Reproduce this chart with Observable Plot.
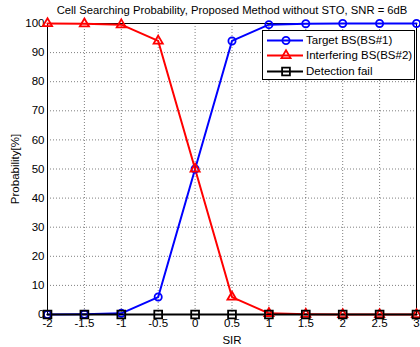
<!DOCTYPE html>
<html>
<head>
<meta charset="utf-8">
<script src="https://cdn.jsdelivr.net/npm/d3@7"></script>
<script src="https://cdn.jsdelivr.net/npm/@observablehq/plot@0.6"></script>
<style>
  body { margin: 0; background: #fff; }
  #wrap { position: relative; width: 420px; height: 347px; font-family: "Liberation Sans", Arial, sans-serif; }
  #legend { position: absolute; left: 262px; top: 30px; width: 153px; height: 50px; background: #fff; border: 1px solid #000; box-sizing: border-box; }
  #legend .row { position: absolute; left: 0; height: 15px; font-size: 11.5px; line-height: 15px; }
  #legend svg { position: absolute; left: 0; top: 0; }
  #legend span { position: absolute; left: 43px; white-space: nowrap; color: #000; }
</style>
</head>
<body>
<div id="wrap"></div>
<script>
const sir = [-2, -1.5, -1, -0.5, 0, 0.5, 1, 1.5, 2, 2.5, 3];
const target = [0, 0.1, 0.4, 6, 50, 94, 99.6, 99.9, 100, 100, 100];
const interfering = [100, 99.9, 99.6, 94, 50, 6, 0.4, 0.1, 0, 0, 0];
const detectFail = [0, 0, 0, 0, 0, 0, 0, 0, 0, 0, 0];
const seriesNames = ["Target BS(BS#1)", "Interfering BS(BS#2)", "Detection fail"];
const seriesColors = ["#0000ff", "#ff0000", "#000000"];
const seriesSymbols = ["circle", "triangle", "square"];
const xTicks = [-2, -1.5, -1, -0.5, 0, 0.5, 1, 1.5, 2, 2.5, 3];
const yTicks = [0, 10, 20, 30, 40, 50, 60, 70, 80, 90, 100];
const titleText = "Cell Searching Probability, Proposed Method without STO, SNR = 6dB";

const values = [target, interfering, detectFail];
const data = [];
values.forEach((vals, s) => sir.forEach((x, i) => data.push({x, y: vals[i], s})));

const font = "Liberation Sans, Arial, sans-serif";
const symR = [3.6, 3.4, 4.4];
const chart = Plot.plot({
  width: 420, height: 347,
  marginLeft: 47, marginRight: 4, marginTop: 23, marginBottom: 33,
  style: {fontFamily: font, fontSize: "11px", color: "#000", background: "#fff"},
  x: {domain: [-2, 3], ticks: xTicks, tickFormat: d => String(d)},
  y: {domain: [0, 100], ticks: yTicks},
  marks: [
    Plot.gridX(xTicks, {stroke: "#000", strokeOpacity: 0.5, strokeDasharray: "1,2"}),
    Plot.gridY(yTicks, {stroke: "#000", strokeOpacity: 0.5, strokeDasharray: "1,2"}),
    Plot.axisX(xTicks, {tickSize: 0, tickPadding: 4, label: "SIR", labelAnchor: "center", labelArrow: false, labelOffset: 29, fontSize: 11.5, tickFormat: d => String(d)}),
    Plot.axisY(yTicks, {tickSize: 0, tickPadding: 3, label: "Probability[%]", labelAnchor: "center", labelArrow: false, labelOffset: 37, fontSize: 11.5}),
    Plot.frame({stroke: "#000"}),
    ...[0, 1, 2].map(s => Plot.line(data.filter(d => d.s === s), {x: "x", y: "y", stroke: seriesColors[s], strokeWidth: 2})),
    ...[0, 1, 2].map(s => Plot.dot(data.filter(d => d.s === s), {x: "x", y: "y", stroke: seriesColors[s], strokeWidth: 1.8, fill: "none", symbol: seriesSymbols[s], r: symR[s]})),
    Plot.text([titleText], {text: d => d, frameAnchor: "top", lineAnchor: "middle", dy: -13, fontSize: 11.25, fill: "#000"})
  ]
});
document.getElementById("wrap").appendChild(chart);

// legend overlay
const leg = document.createElement("div");
leg.id = "legend";
seriesNames.forEach((name, s) => {
  const row = document.createElement("div");
  row.className = "row";
  row.style.top = (1.5 + s * 15.5) + "px";
  row.style.width = "150px";
  const svg = d3.create("svg").attr("width", 42).attr("height", 15);
  svg.append("line").attr("x1", 4).attr("x2", 40).attr("y1", 7.5).attr("y2", 7.5)
    .attr("stroke", seriesColors[s]).attr("stroke-width", 2);
  const r = symR[s];
  const sym = d3.symbol().type(s === 0 ? d3.symbolCircle : s === 1 ? d3.symbolTriangle : d3.symbolSquare)
    .size(Math.PI * r * r);
  svg.append("path").attr("d", sym()).attr("transform", `translate(23,7.5)`)
    .attr("fill", "none").attr("stroke", seriesColors[s]).attr("stroke-width", 1.8);
  row.appendChild(svg.node());
  const sp = document.createElement("span");
  sp.textContent = name;
  row.appendChild(sp);
  leg.appendChild(row);
});
document.getElementById("wrap").appendChild(leg);
</script>
</body>
</html>
